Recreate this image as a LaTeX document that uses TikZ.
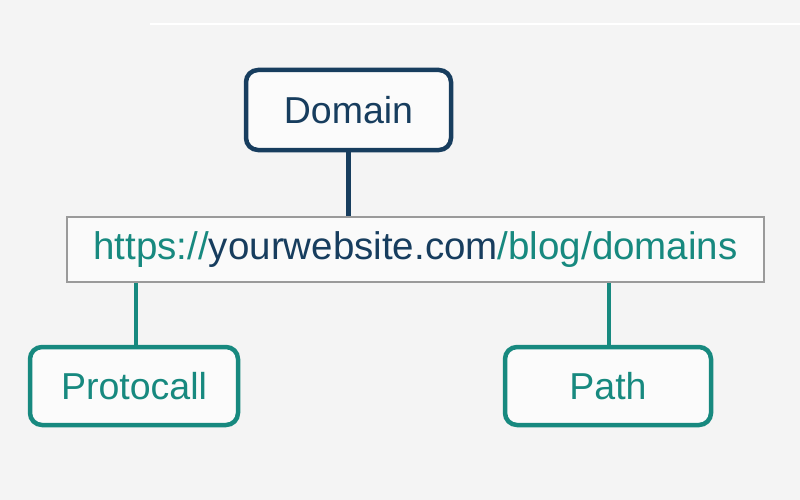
\documentclass[tikz,border=0pt]{standalone}
\usepackage{fontspec}
\setmainfont{Liberation Sans}
\usetikzlibrary{positioning}

\definecolor{navy}{HTML}{173D5E}
\definecolor{teal}{HTML}{17897F}
\definecolor{urlgray}{HTML}{9A9A9A}
\definecolor{bggray}{HTML}{F4F4F4}

\begin{document}
\begin{tikzpicture}[x=1pt, y=-1pt,
partbox/.style={draw, rounded corners=12pt, line width=4.5pt, fill=white!60!bggray,
  font=\fontsize{37.5}{40}\selectfont, minimum height=78pt, inner sep=0pt},
urlbox/.style={draw=urlgray, line width=2pt, fill=white!50!bggray,
  font=\fontsize{38.5}{42}\selectfont, minimum width=697pt, minimum height=65pt, inner sep=0pt},
link/.style={line width=4.5pt}
]
\useasboundingbox[fill=bggray] (0,0) rectangle (800,500);
\draw[white, line width=1.5pt] (150,24) -- (800,24);

\node[urlbox] (url) at (415.5,249.5)
  {\textcolor{teal}{https://}\textcolor{navy}{yourwebsite.com}\textcolor{teal}{/blog/domains}};

\node[partbox, draw=navy, text=navy, minimum width=205pt, minimum height=80pt] (domain) at (348.5,110) {Domain};
\node[partbox, draw=teal, text=teal, minimum width=208pt] (proto) at (134,386) {Protocall};
\node[partbox, draw=teal, text=teal, minimum width=206pt] (path) at (608,386) {Path};

% connectors
\draw[link, navy] (domain.south) -- (domain.south |- url.north);
\draw[link, teal] ([xshift=2pt]proto.north) -- ([xshift=2pt]proto.north |- url.south);
\draw[link, teal] ([xshift=1pt]path.north) -- ([xshift=1pt]path.north |- url.south);

\end{tikzpicture}
\end{document}
